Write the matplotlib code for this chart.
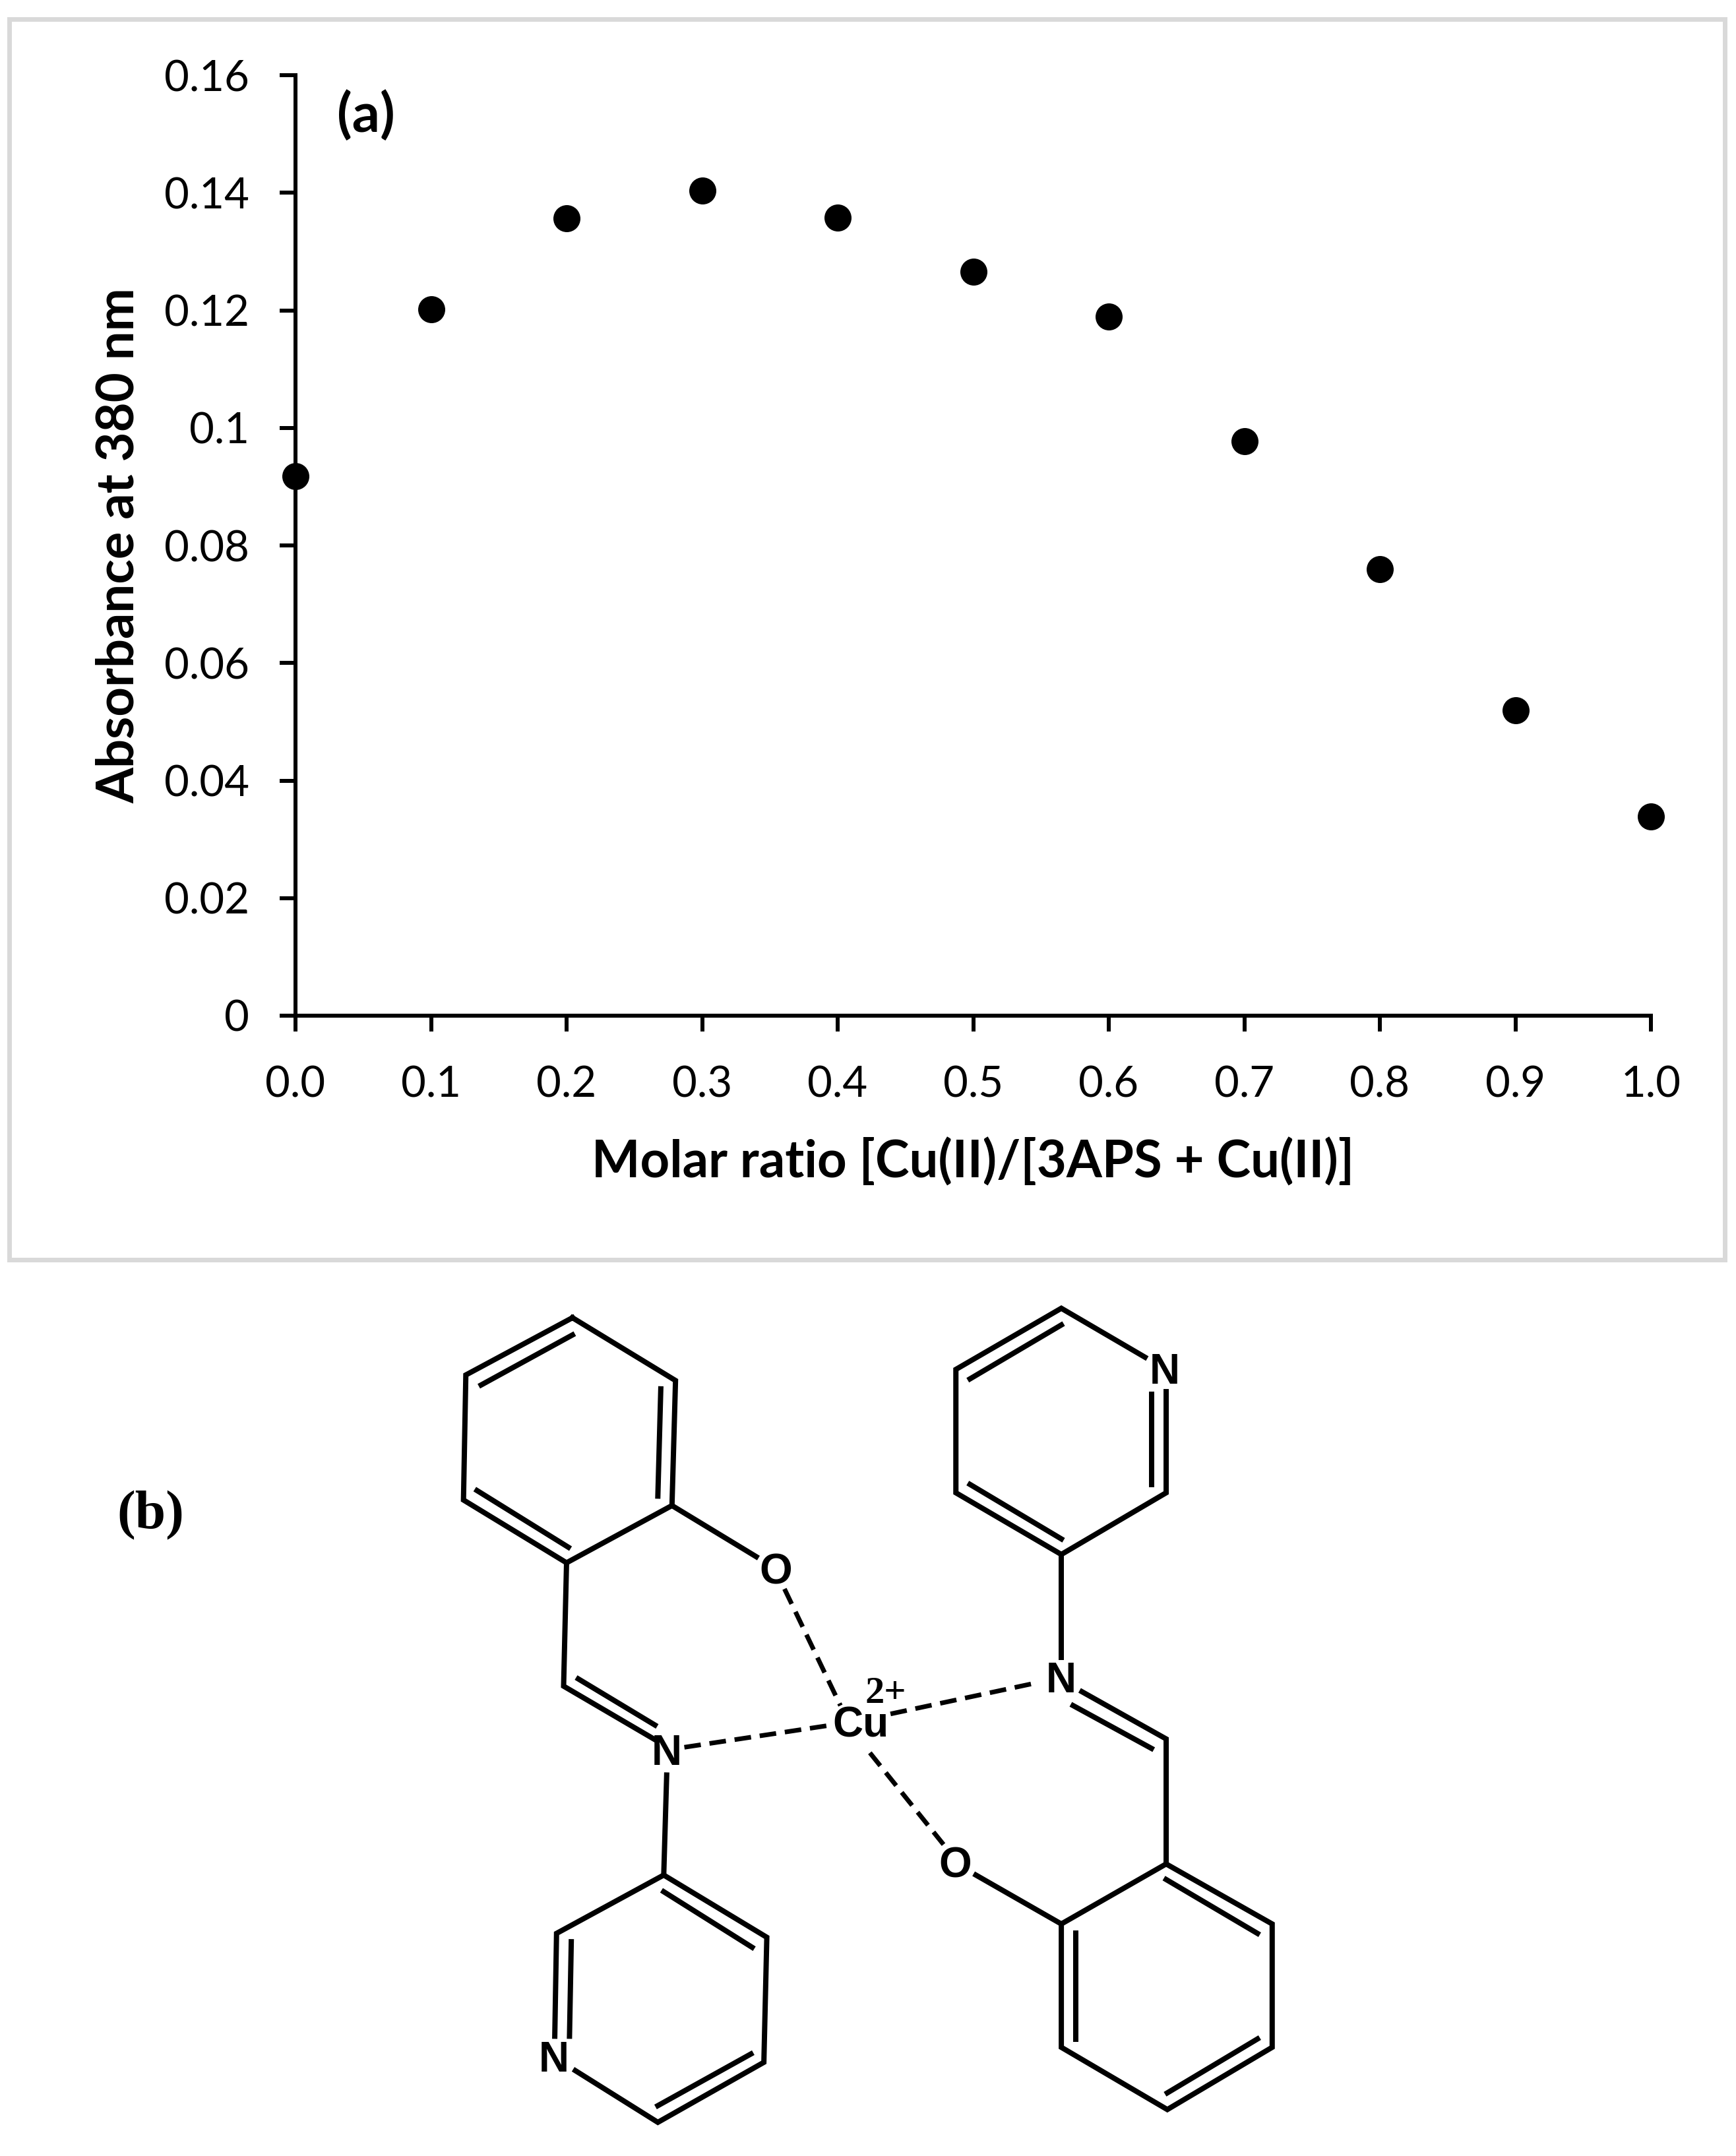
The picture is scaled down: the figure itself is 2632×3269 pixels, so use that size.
import matplotlib
matplotlib.use('Agg')
import matplotlib.pyplot as plt
from matplotlib.patches import Rectangle

W, H = 2632, 3269
DPI = 100
PX = 72 / DPI  # points per pixel

molar_ratio = [0.0, 0.1, 0.2, 0.3, 0.4, 0.5, 0.6, 0.7, 0.8, 0.9, 1.0]
absorbance = [0.0918, 0.1202, 0.1357, 0.1404, 0.1358, 0.1266, 0.1189, 0.0977, 0.0760, 0.0520, 0.0339]
x_ticks = [0.0, 0.1, 0.2, 0.3, 0.4, 0.5, 0.6, 0.7, 0.8, 0.9, 1.0]
x_tick_labels = ['0.0', '0.1', '0.2', '0.3', '0.4', '0.5', '0.6', '0.7', '0.8', '0.9', '1.0']
y_ticks = [0, 0.02, 0.04, 0.06, 0.08, 0.1, 0.12, 0.14, 0.16]
y_tick_labels = ['0', '0.02', '0.04', '0.06', '0.08', '0.1', '0.12', '0.14', '0.16']

solid_bonds = [
    # upper left ring
    [(300, 57), (475, 170), (469, 395), (290, 498), (115, 385), (119, 160), (300, 57)],
    [(145, 178), (300, 88)], [(450, 185), (445, 378)], [(138, 368), (293, 470)],
    [(469, 395), (612, 487)],
    [(290, 498), (285, 720), (438, 815)], [(310, 707), (440, 790)],
    [(460, 880), (455, 1060)],
    # lower left ring
    [(305, 1412), (445, 1505), (625, 1397), (630, 1172), (455, 1060), (273, 1165), (270, 1350)],
    [(455, 1090), (605, 1190)], [(603, 1382), (445, 1475)], [(295, 1350), (298, 1180)],
    # upper right ring
    [(1272, 128), (1130, 40), (951, 150), (951, 372), (1130, 483), (1308, 372), (1308, 190)],
    [(975, 167), (1130, 70)], [(975, 357), (1130, 455)], [(1283, 195), (1283, 357)],
    [(1130, 483), (1130, 668)],
    [(1165, 730), (1308, 815), (1308, 1040)], [(1150, 755), (1283, 832)],
    # lower right ring
    [(1308, 1040), (1488, 1148), (1488, 1370), (1310, 1482), (1130, 1370), (1130, 1148), (1308, 1040)],
    [(1308, 1068), (1463, 1165)], [(1463, 1355), (1310, 1452)], [(1155, 1355), (1155, 1165)],
    [(1130, 1148), (985, 1060)],
]
dashed_bonds = [
    [(660, 545), (755, 755)],
    [(490, 830), (740, 790)],
    [(840, 770), (1088, 714)],
    [(805, 840), (930, 1005)],
]
atom_labels = [('O', 645, 512), ('N', 460, 838), ('N', 268, 1390), ('N', 1305, 152),
               ('N', 1130, 708), ('O', 950, 1040), ('Cu', 790, 788)]


def to_px(pt):
    return 600 + pt[0] * 0.893, 1998 + (pt[1] - 57) * 0.8425


fig = plt.figure(figsize=(W / DPI, H / DPI), dpi=DPI, facecolor='white')
plt.rcParams['font.family'] = ['Lato', 'DejaVu Sans']

bg = fig.add_axes([0, 0, 1, 1])
bg.set_xlim(0, W)
bg.set_ylim(H, 0)
bg.axis('off')
bg.add_patch(Rectangle((14, 29), 2601, 1881, fill=False, ec='#d9d9d9', lw=7 * PX))

# panel (a)
left, right, top, bottom = 448, 2503, 114, 1540
ax = fig.add_axes([left / W, 1 - bottom / H, (right - left) / W, (bottom - top) / H])
ax.patch.set_alpha(0)
ax.scatter(molar_ratio, absorbance, s=(41 * PX) ** 2, c='black', clip_on=False, zorder=5, linewidths=0)
ax.set_xlim(0, 1)
ax.set_ylim(0, 0.16)
ax.set_xticks(x_ticks)
ax.set_xticklabels(x_tick_labels)
ax.set_yticks(y_ticks)
ax.set_yticklabels(y_tick_labels)
for s in ['top', 'right']:
    ax.spines[s].set_visible(False)
for s in ['left', 'bottom']:
    ax.spines[s].set_linewidth(6 * PX)
ax.tick_params(axis='both', direction='out', length=24 * PX, width=6 * PX, labelsize=47)
ax.tick_params(axis='y', pad=46 * PX)
ax.tick_params(axis='x', pad=51 * PX)
ax.set_xlabel('Molar ratio [Cu(II)/[3APS + Cu(II)]', fontsize=56, fontweight='bold', va='center')
ax.set_ylabel('Absorbance at 380 nm', fontsize=56, fontweight='bold', va='center')
ax.xaxis.set_label_coords(0.5, -0.156)
ax.yaxis.set_label_coords(-0.130, 0.5)
ax.text(555, 175, '(a)', transform=bg.transData, fontsize=60, fontweight='bold', ha='center', va='center')

# panel (b)
bg.text(228, 2298, '(b)', family='Liberation Serif', fontsize=60, fontweight='bold', ha='center', va='center')
for bond in solid_bonds:
    pts = [to_px(p) for p in bond]
    bg.plot([p[0] for p in pts], [p[1] for p in pts], color='black', lw=8 * PX, solid_joinstyle='miter')
for bond in dashed_bonds:
    pts = [to_px(p) for p in bond]
    bg.plot([p[0] for p in pts], [p[1] for p in pts], color='black', lw=7 * PX, dashes=(3.6, 1.9))
for label, zx, zy in atom_labels:
    px, py = to_px((zx, zy))
    bg.text(px, py + 3, label, family='Liberation Sans', fontsize=46, fontweight='bold', ha='center', va='center')
px, py = to_px((832, 733))
bg.text(px, py, '2+', family='Liberation Serif', fontsize=42, fontweight='bold', ha='center', va='center')

fig.savefig('out.png', dpi=DPI)
